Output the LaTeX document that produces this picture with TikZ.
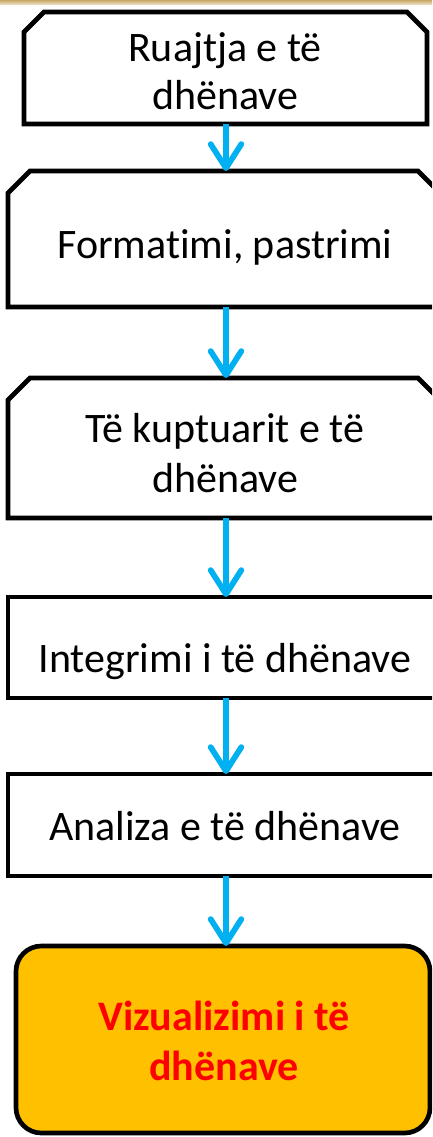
\documentclass[tikz,border=0pt]{standalone}
\usepackage{fontspec}
\setmainfont{Carlito}[Ligatures={NoCommon}]
\usetikzlibrary{arrows.meta,fit}
\definecolor{arrowblue}{HTML}{00B0F0}
\definecolor{boxorange}{HTML}{FFC000}
\definecolor{gold1}{HTML}{C9A868}
\definecolor{gold2}{HTML}{F1E6CC}
\tikzset{
  frame/.style={inner sep=0pt, outer sep=0pt, draw=none},
  outline/.style={draw=black, line width=3.5pt, line join=miter},
  txt/.style={inner sep=0pt, anchor=base, font=\fontsize{31.5}{37}\selectfont},
  boldtxt/.style={txt, font=\fontsize{31.5}{37}\selectfont\bfseries, text=red},
  arr/.style={draw=arrowblue, line width=4.3pt, -{Straight Barb[length=18pt,width=23pt,round]}},
}
\begin{document}
\begin{tikzpicture}[x=0.75pt,y=-0.75pt]
\useasboundingbox (0,0) rectangle (432,1137);
\clip (0,0) rectangle (432,1137);
\fill[white] (0,0) rectangle (432,1137);
\shade[top color=gold1, bottom color=gold2] (0,0) rectangle (432,5);

% box frames
\node[frame, fit={(24,12) (427,124)}] (b1) {};
\node[frame, fit={(8,171) (440,307)}] (b2) {};
\node[frame, fit={(8,378) (440,518)}] (b3) {};
\node[frame, fit={(8,597) (440,698)}] (b4) {};
\node[frame, fit={(8,774) (440,876)}] (b5) {};
\node[frame, fit={(16,946) (430,1133)}, draw=black, fill=boxorange, line width=3.5pt, rounded corners=19pt] (b6) {};

% chamfered outlines
\draw[outline] (b1.south west) -- ([yshift=-15pt]b1.north west) -- ([xshift=15pt]b1.north west)
  -- ([xshift=-15pt]b1.north east) -- ([yshift=-15pt]b1.north east) -- (b1.south east) -- cycle;
\draw[outline] (b2.south west) -- ([yshift=-16.5pt]b2.north west) -- ([xshift=16.5pt]b2.north west)
  -- ([xshift=-16.5pt]b2.north east) -- ([yshift=-16.5pt]b2.north east) -- (b2.south east) -- cycle;
\draw[outline] (b3.south west) -- ([yshift=-16.5pt]b3.north west) -- ([xshift=16.5pt]b3.north west)
  -- ([xshift=-16.5pt]b3.north east) -- ([yshift=-16.5pt]b3.north east) -- (b3.south east) -- cycle;
\draw[outline] (b4.south west) rectangle (b4.north east);
\draw[outline] (b5.south west) rectangle (b5.north east);

% texts
\node[txt] (t1a) at (225,62) {Ruajtja e të};
\node[txt] (t1b) at (225,110) {dhënave};
\node[txt] (t2) at (225,259) {Formatimi, pastrimi};
\node[txt] (t3a) at (225,442) {Të kuptuarit e të};
\node[txt] (t3b) at (225,492) {dhënave};
\node[txt] (t4) at (225,672) {Integrimi i të dhënave};
\node[txt] (t5) at (225,840) {Analiza e të dhënave};
\node[boldtxt] (t6a) at (224,1030) {Vizualizimi i të};
\node[boldtxt] (t6b) at (224,1080) {dhënave};

% connectors
\coordinate (ax) at (226,0);
\draw[arr] (b1.south -| ax) -- (b2.north -| ax);
\draw[arr] (b2.south -| ax) -- (b3.north -| ax);
\draw[arr] (b3.south -| ax) -- (b4.north -| ax);
\draw[arr] (b4.south -| ax) -- (b5.north -| ax);
\draw[arr] (b5.south -| ax) -- (b6.north -| ax);
\end{tikzpicture}
\end{document}
